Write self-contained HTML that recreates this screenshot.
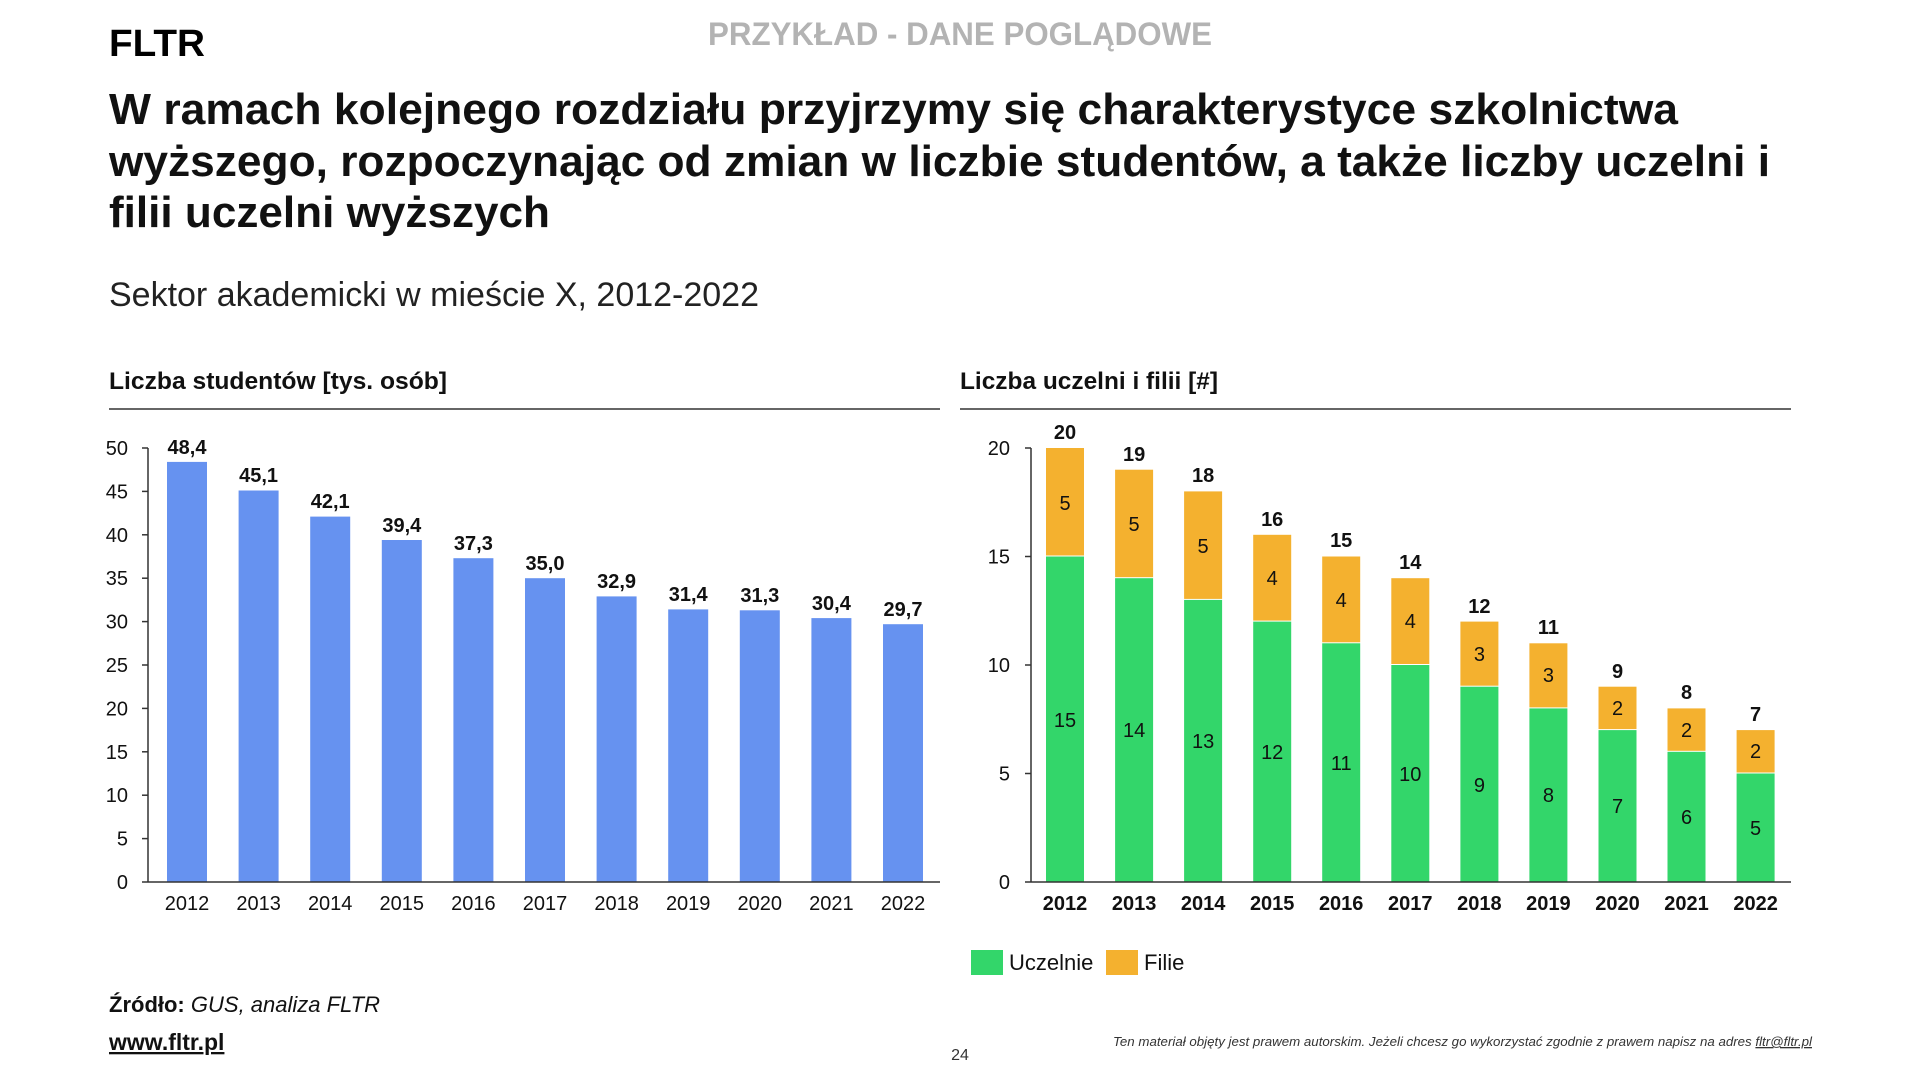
<!DOCTYPE html>
<html><head><meta charset="utf-8"><style>
html,body{margin:0;padding:0;background:#fff;}
svg{display:block;font-family:"Liberation Sans",sans-serif;}
</style></head><body>
<svg width="1920" height="1080" viewBox="0 0 1920 1080" xmlns="http://www.w3.org/2000/svg">
<text x="708" y="45" font-size="32" font-weight="bold" fill="#b3b3b3" textLength="504" lengthAdjust="spacingAndGlyphs">PRZYKŁAD - DANE POGLĄDOWE</text>
<text x="109" y="56" font-size="38" font-weight="bold" fill="#000" textLength="96" lengthAdjust="spacingAndGlyphs">FLTR</text>
<g font-size="44" font-weight="bold" fill="#111">
<text x="109" y="124" textLength="1569" lengthAdjust="spacingAndGlyphs">W ramach kolejnego rozdziału przyjrzymy się charakterystyce szkolnictwa</text>
<text x="109" y="176" textLength="1661" lengthAdjust="spacingAndGlyphs">wyższego, rozpoczynając od zmian w liczbie studentów, a także liczby uczelni i</text>
<text x="109" y="227" textLength="441" lengthAdjust="spacingAndGlyphs">filii uczelni wyższych</text>
</g>
<text x="109" y="306" font-size="34" fill="#222" textLength="650" lengthAdjust="spacingAndGlyphs">Sektor akademicki w mieście X, 2012-2022</text>
<text x="109" y="389" font-size="24" font-weight="bold" fill="#111" textLength="338" lengthAdjust="spacingAndGlyphs">Liczba studentów [tys. osób]</text>
<text x="960" y="389" font-size="24" font-weight="bold" fill="#111" textLength="258" lengthAdjust="spacingAndGlyphs">Liczba uczelni i filii [#]</text>
<line x1="109" y1="409" x2="940" y2="409" stroke="#333" stroke-width="1.5"/>
<line x1="960" y1="409" x2="1791" y2="409" stroke="#333" stroke-width="1.5"/>

<!-- left chart -->
<g fill="#6692f0">
<rect x="167" y="461.9" width="40" height="420.1"/>
<rect x="238.6" y="490.5" width="40" height="391.5"/>
<rect x="310.2" y="516.6" width="40" height="365.4"/>
<rect x="381.8" y="540" width="40" height="342"/>
<rect x="453.4" y="558.2" width="40" height="323.8"/>
<rect x="525" y="578.2" width="40" height="303.8"/>
<rect x="596.6" y="596.4" width="40" height="285.6"/>
<rect x="668.2" y="609.4" width="40" height="272.6"/>
<rect x="739.8" y="610.3" width="40" height="271.7"/>
<rect x="811.4" y="618.1" width="40" height="263.9"/>
<rect x="883" y="624.2" width="40" height="257.8"/>
</g>
<g font-size="20" font-weight="bold" fill="#111" text-anchor="middle">
<text x="187" y="454">48,4</text><text x="258.6" y="482">45,1</text><text x="330.2" y="508">42,1</text>
<text x="401.8" y="532">39,4</text><text x="473.4" y="550">37,3</text><text x="545" y="570">35,0</text>
<text x="616.6" y="588">32,9</text><text x="688.2" y="601">31,4</text><text x="759.8" y="602">31,3</text>
<text x="831.4" y="610">30,4</text><text x="903" y="616">29,7</text>
</g>
<g stroke="#333" stroke-width="1.5">
<line x1="148" y1="448" x2="148" y2="882"/>
<line x1="148" y1="882" x2="940" y2="882"/>
<line x1="142" y1="882" x2="148" y2="882"/><line x1="142" y1="838.6" x2="148" y2="838.6"/>
<line x1="142" y1="795.2" x2="148" y2="795.2"/><line x1="142" y1="751.8" x2="148" y2="751.8"/>
<line x1="142" y1="708.4" x2="148" y2="708.4"/><line x1="142" y1="665" x2="148" y2="665"/>
<line x1="142" y1="621.6" x2="148" y2="621.6"/><line x1="142" y1="578.2" x2="148" y2="578.2"/>
<line x1="142" y1="534.8" x2="148" y2="534.8"/><line x1="142" y1="491.4" x2="148" y2="491.4"/>
<line x1="142" y1="448" x2="148" y2="448"/>
</g>
<g font-size="20" fill="#111" text-anchor="end">
<text x="128" y="889">0</text><text x="128" y="845.6">5</text><text x="128" y="802.2">10</text>
<text x="128" y="758.8">15</text><text x="128" y="715.4">20</text><text x="128" y="672">25</text>
<text x="128" y="628.6">30</text><text x="128" y="585.2">35</text><text x="128" y="541.8">40</text>
<text x="128" y="498.4">45</text><text x="128" y="455">50</text>
</g>
<g font-size="20" fill="#111" text-anchor="middle">
<text x="187" y="910">2012</text><text x="258.6" y="910">2013</text><text x="330.2" y="910">2014</text>
<text x="401.8" y="910">2015</text><text x="473.4" y="910">2016</text><text x="545" y="910">2017</text>
<text x="616.6" y="910">2018</text><text x="688.2" y="910">2019</text><text x="759.8" y="910">2020</text>
<text x="831.4" y="910">2021</text><text x="903" y="910">2022</text>
</g>

<!-- right chart -->
<g fill="#33d66a">
<rect x="1046" y="556.5" width="38" height="325.5"/>
<rect x="1115.1" y="578.2" width="38" height="303.8"/>
<rect x="1184.1" y="599.9" width="38" height="282.1"/>
<rect x="1253.2" y="621.6" width="38" height="260.4"/>
<rect x="1322.2" y="643.3" width="38" height="238.7"/>
<rect x="1391.3" y="665" width="38" height="217"/>
<rect x="1460.4" y="686.7" width="38" height="195.3"/>
<rect x="1529.4" y="708.4" width="38" height="173.6"/>
<rect x="1598.5" y="730.1" width="38" height="151.9"/>
<rect x="1667.5" y="751.8" width="38" height="130.2"/>
<rect x="1736.6" y="773.5" width="38" height="108.5"/>
</g>
<g fill="#f4b12f">
<rect x="1046" y="448" width="38" height="107.5"/>
<rect x="1115.1" y="469.7" width="38" height="107.5"/>
<rect x="1184.1" y="491.4" width="38" height="107.5"/>
<rect x="1253.2" y="534.8" width="38" height="85.8"/>
<rect x="1322.2" y="556.5" width="38" height="85.8"/>
<rect x="1391.3" y="578.2" width="38" height="85.8"/>
<rect x="1460.4" y="621.6" width="38" height="64.1"/>
<rect x="1529.4" y="643.3" width="38" height="64.1"/>
<rect x="1598.5" y="686.7" width="38" height="42.4"/>
<rect x="1667.5" y="708.4" width="38" height="42.4"/>
<rect x="1736.6" y="730.1" width="38" height="42.4"/>
</g>
<g font-size="20" fill="#111" text-anchor="middle">
<text x="1065" y="510">5</text><text x="1134.1" y="531">5</text><text x="1203.1" y="553">5</text>
<text x="1272.2" y="585">4</text><text x="1341.2" y="607">4</text><text x="1410.3" y="628">4</text>
<text x="1479.4" y="661">3</text><text x="1548.4" y="682">3</text><text x="1617.5" y="715">2</text>
<text x="1686.5" y="737">2</text><text x="1755.6" y="758">2</text>
<text x="1065" y="727">15</text><text x="1134.1" y="737">14</text><text x="1203.1" y="748">13</text>
<text x="1272.2" y="759">12</text><text x="1341.2" y="770">11</text><text x="1410.3" y="781">10</text>
<text x="1479.4" y="792">9</text><text x="1548.4" y="802">8</text><text x="1617.5" y="813">7</text>
<text x="1686.5" y="824">6</text><text x="1755.6" y="835">5</text>
</g>
<g font-size="20" font-weight="bold" fill="#111" text-anchor="middle">
<text x="1065" y="439">20</text><text x="1134.1" y="461">19</text><text x="1203.1" y="482">18</text>
<text x="1272.2" y="526">16</text><text x="1341.2" y="547">15</text><text x="1410.3" y="569">14</text>
<text x="1479.4" y="613">12</text><text x="1548.4" y="634">11</text><text x="1617.5" y="678">9</text>
<text x="1686.5" y="699">8</text><text x="1755.6" y="721">7</text>
</g>
<g stroke="#333" stroke-width="1.5">
<line x1="1031" y1="448" x2="1031" y2="882"/>
<line x1="1031" y1="882" x2="1791" y2="882"/>
<line x1="1025" y1="882" x2="1031" y2="882"/><line x1="1025" y1="773.5" x2="1031" y2="773.5"/>
<line x1="1025" y1="665" x2="1031" y2="665"/><line x1="1025" y1="556.5" x2="1031" y2="556.5"/>
<line x1="1025" y1="448" x2="1031" y2="448"/>
</g>
<g font-size="20" fill="#111" text-anchor="end">
<text x="1010" y="889">0</text><text x="1010" y="780.5">5</text><text x="1010" y="672">10</text>
<text x="1010" y="563.5">15</text><text x="1010" y="455">20</text>
</g>
<g font-size="20" font-weight="bold" fill="#111" text-anchor="middle">
<text x="1065" y="910">2012</text><text x="1134.1" y="910">2013</text><text x="1203.1" y="910">2014</text>
<text x="1272.2" y="910">2015</text><text x="1341.2" y="910">2016</text><text x="1410.3" y="910">2017</text>
<text x="1479.4" y="910">2018</text><text x="1548.4" y="910">2019</text><text x="1617.5" y="910">2020</text>
<text x="1686.5" y="910">2021</text><text x="1755.6" y="910">2022</text>
</g>

<!-- legend -->
<rect x="971" y="950" width="32" height="25" fill="#33d66a"/>
<text x="1009" y="970" font-size="22" fill="#111">Uczelnie</text>
<rect x="1106" y="950" width="32" height="25" fill="#f4b12f"/>
<text x="1144" y="970" font-size="22" fill="#111">Filie</text>

<!-- footer -->
<text x="109" y="1012" font-size="22" fill="#111"><tspan font-weight="bold">Źródło:</tspan> <tspan font-style="italic">GUS, analiza FLTR</tspan></text>
<text x="109" y="1050" font-size="23" font-weight="bold" fill="#111" text-decoration="underline">www.fltr.pl</text>
<text x="960" y="1060" font-size="16" fill="#333" text-anchor="middle">24</text>
<text x="1113" y="1046" font-size="13" font-style="italic" fill="#333" textLength="699" lengthAdjust="spacingAndGlyphs">Ten materiał objęty jest prawem  autorskim. Jeżeli chcesz go wykorzystać zgodnie z prawem  napisz na adres <tspan text-decoration="underline">fltr@fltr.pl</tspan></text>
</svg>
</body></html>
